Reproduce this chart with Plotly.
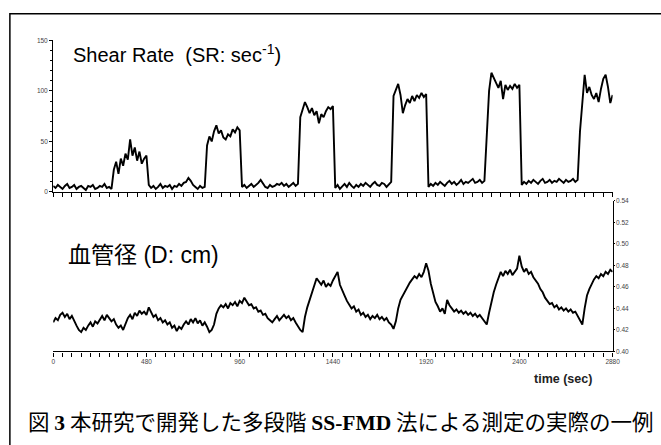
import plotly.graph_objects as go

# sampling grid (seconds), one sample every 12 s from 0 to 2880
time_s = [12 * i for i in range(241)]

# Shear rate (sec^-1)
shear_rate = (
    # baseline 0-300 s
    [6, 4, 7, 5, 3, 6, 8, 4, 5, 7, 3, 5, 6, 4, 2, 6, 5, 7, 3, 4, 6, 5, 8, 4, 5, 3]
    # step 1
    + [22, 30, 18, 33, 26, 38, 32, 52, 36, 44, 31, 40, 28, 33, 36]
    # baseline
    + [7, 4, 6, 3, 5, 8, 4, 6, 5, 7, 3, 6, 5, 8, 6, 9, 10, 14, 11, 7, 5, 3, 6, 4, 5]
    # step 2
    + [46, 55, 50, 60, 66, 58, 61, 54, 52, 57, 55, 62, 59, 64, 61]
    # baseline
    + [5, 7, 4, 6, 8, 5, 7, 9, 12, 8, 5, 4, 7, 5, 6, 8, 7, 9, 6, 8, 5, 7, 9, 6, 8]
    # step 3
    + [74, 82, 89, 84, 78, 83, 76, 80, 68, 77, 74, 80, 84, 82, 85]
    # baseline
    + [4, 7, 3, 6, 8, 5, 9, 6, 4, 7, 5, 8, 6, 9, 7, 5, 8, 10, 7, 6, 9, 8, 5, 8, 10]
    # step 4
    + [95, 102, 107, 96, 78, 86, 92, 88, 95, 90, 96, 93, 98, 94, 97]
    # baseline
    + [5, 8, 6, 9, 7, 10, 8, 6, 9, 11, 8, 10, 7, 9, 12, 8, 10, 9, 11, 13, 9, 10, 12, 9, 11]
    # step 5
    + [55, 100, 118, 112, 108, 103, 110, 92, 106, 101, 105, 102, 107, 103, 106]
    # baseline
    + [7, 10, 8, 11, 9, 12, 10, 8, 11, 13, 9, 10, 12, 9, 11, 10, 13, 11, 9, 12, 10, 11, 13, 10, 12]
    # step 6
    + [60, 88, 116, 98, 104, 96, 92, 98, 89, 102, 112, 116, 104, 88, 96]
)

# Vessel diameter (cm)
diameter = (
    [0.427, 0.431, 0.429, 0.434, 0.436, 0.432, 0.435, 0.430, 0.433]
    + [0.428, 0.424, 0.420, 0.418, 0.422, 0.420]
    + [0.424, 0.427, 0.423, 0.428, 0.426]
    + [0.430, 0.433, 0.429, 0.434, 0.431, 0.428, 0.430]
    + [0.425, 0.422, 0.424, 0.420, 0.426]
    + [0.431, 0.434, 0.430, 0.436, 0.433, 0.438, 0.435, 0.437, 0.434, 0.441]
    + [0.436, 0.432, 0.434, 0.429, 0.431, 0.427, 0.429, 0.425, 0.427]
    + [0.422, 0.424, 0.419, 0.423, 0.421, 0.425]
    + [0.428, 0.425, 0.430, 0.427, 0.431, 0.426, 0.429, 0.424, 0.427, 0.423]
    + [0.418, 0.420, 0.425]
    + [0.435, 0.440, 0.443]
    + [0.441, 0.444, 0.440, 0.445, 0.443, 0.446, 0.442, 0.447, 0.445, 0.450]
    + [0.447, 0.443, 0.444, 0.440, 0.441, 0.437, 0.438, 0.434, 0.435, 0.431, 0.429, 0.427]
    + [0.430, 0.433, 0.429, 0.432, 0.434, 0.431, 0.433, 0.429, 0.431]
    + [0.427, 0.423, 0.420, 0.418]
    + [0.432, 0.441, 0.448, 0.455, 0.460]
    + [0.468, 0.465, 0.462, 0.466, 0.460]
    + [0.463, 0.461, 0.466, 0.470, 0.474]
    + [0.462, 0.456, 0.452, 0.447, 0.444, 0.440]
    + [0.442, 0.437, 0.439, 0.434, 0.436, 0.432]
    + [0.434, 0.430, 0.433, 0.431, 0.434, 0.430, 0.432, 0.429, 0.431, 0.427, 0.425]
    + [0.421]
    + [0.428, 0.440, 0.448, 0.452, 0.457, 0.460, 0.464]
    + [0.467, 0.470, 0.468, 0.472, 0.469, 0.474, 0.482]
    + [0.475, 0.463, 0.455, 0.446, 0.442]
    + [0.437, 0.440, 0.435, 0.448, 0.443]
    + [0.440, 0.437, 0.439, 0.436, 0.438, 0.435, 0.437, 0.434, 0.436, 0.433, 0.435, 0.432, 0.434, 0.431, 0.428]
    + [0.425]
    + [0.436, 0.447, 0.455, 0.462, 0.468, 0.474]
    + [0.470, 0.475, 0.472, 0.476, 0.471, 0.474, 0.477]
    + [0.489]
    + [0.479, 0.474, 0.477, 0.472, 0.474, 0.469, 0.466]
    + [0.463, 0.458, 0.455, 0.450, 0.447, 0.444, 0.445, 0.441]
    + [0.443, 0.439, 0.441, 0.438, 0.440, 0.437, 0.439, 0.436, 0.437]
    + [0.433, 0.429, 0.425]
    + [0.440, 0.452, 0.458, 0.463]
    + [0.467, 0.470, 0.468, 0.472, 0.470, 0.474, 0.472, 0.476, 0.474]
)

assert len(shear_rate) == len(time_s), len(shear_rate)
assert len(diameter) == len(time_s), len(diameter)

x_ticks = [0, 480, 960, 1440, 1920, 2400, 2880]
sr_ticks = [0, 50, 100, 150]
d_ticks = [0.40, 0.42, 0.44, 0.46, 0.48, 0.50, 0.52, 0.54]

W, H = 661, 445


def px(x):
    return x / W


def py(y):
    return 1 - y / H


tick_font = dict(family="Liberation Sans, Arial, sans-serif", size=6.5, color="#444")

fig = go.Figure()
fig.add_trace(go.Scatter(x=time_s, y=shear_rate, xaxis="x", yaxis="y", mode="lines",
                         line=dict(color="black", width=1.9), showlegend=False))
fig.add_trace(go.Scatter(x=time_s, y=diameter, xaxis="x2", yaxis="y2", mode="lines",
                         line=dict(color="black", width=1.9), showlegend=False))

x_dom = [px(52), px(620)]
common_x = dict(range=[0, 2880], showline=True, linecolor="black", linewidth=1.3,
                ticks="outside", ticklen=4, tickwidth=1, tickcolor="black",
                tickvals=x_ticks, showgrid=False, zeroline=False,
                minor=dict(dtick=48, tick0=0, ticks="outside", ticklen=4, tickwidth=1,
                           tickcolor="black", showgrid=False))

fig.update_layout(
    width=W, height=H,
    margin=dict(l=0, r=0, t=0, b=0),
    paper_bgcolor="white", plot_bgcolor="white",
    xaxis=dict(domain=x_dom, anchor="y", showticklabels=False, **common_x),
    yaxis=dict(domain=[py(191), py(37)], anchor="x", range=[0, 150],
               tickvals=sr_ticks, showline=True, linecolor="black", linewidth=1.3,
               ticks="outside", ticklen=3, tickcolor="black", tickfont=tick_font,
               showgrid=False, zeroline=False,
               minor=dict(dtick=10, ticks="outside", ticklen=2, tickcolor="black",
                          showgrid=False)),
    xaxis2=dict(domain=x_dom, anchor="y2", showticklabels=True, tickfont=tick_font,
                **common_x),
    yaxis2=dict(domain=[py(353), py(200)], anchor="x2", side="right",
                range=[0.40, 0.54], tickvals=d_ticks, tickformat=".2f",
                showline=True, linecolor="black", linewidth=1.3,
                ticks="outside", ticklen=1, tickcolor="black", tickfont=tick_font,
                showgrid=False, zeroline=False),
    shapes=[dict(type="rect", xref="paper", yref="paper",
                 x0=px(8), x1=px(675), y0=py(460), y1=py(10),
                 line=dict(color="black", width=1.5), fillcolor="rgba(0,0,0,0)")],
)

sans = "Liberation Sans, Arial, Noto Sans CJK JP, sans-serif"
jp = "Noto Sans CJK JP, sans-serif"

fig.add_annotation(text="Shear Rate\u00a0\u00a0(SR: sec<sup>-1</sup>)", xref="paper", yref="paper",
                   x=px(70), y=py(50), xanchor="left", yanchor="middle", showarrow=False,
                   font=dict(family=sans, size=20, color="black"))
fig.add_annotation(text="血管径 (D: cm)", xref="paper", yref="paper",
                   x=px(65), y=py(255), xanchor="left", yanchor="middle", showarrow=False,
                   font=dict(family=sans, size=23, color="black"))
fig.add_annotation(text="<b>time (sec)</b>", xref="paper", yref="paper",
                   x=px(570), y=py(381), xanchor="center", yanchor="middle", showarrow=False,
                   font=dict(family=sans, size=12.5, color="#222"))
caption = ("図 <span style=\"font-family:Liberation Serif, serif\"><b>3</b></span> "
           "本研究で開発した多段階 "
           "<span style=\"font-family:Liberation Serif, serif\"><b>SS-FMD</b></span> "
           "法による測定の実際の一例")
fig.add_annotation(text=caption, xref="paper", yref="paper",
                   x=px(24), y=py(423), xanchor="left", yanchor="middle", showarrow=False,
                   font=dict(family=jp, size=21.5, color="black"))

fig.write_html("out.html")
